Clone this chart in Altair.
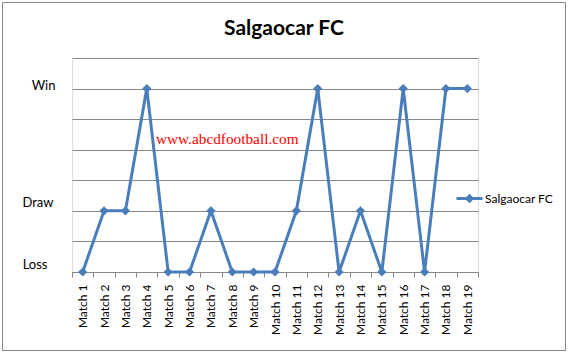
import altair as alt
import pandas as pd

matches = [f"Match {i}" for i in range(1, 20)]
results = ["Loss", "Draw", "Draw", "Win", "Loss", "Loss", "Draw", "Loss", "Loss", "Loss",
           "Draw", "Win", "Loss", "Draw", "Loss", "Win", "Loss", "Win", "Win"]
level = {"Loss": 0, "Draw": 2, "Win": 6}
team = "Salgaocar FC"

df = pd.DataFrame({"match": matches, "result": results,
                   "value": [level[r] for r in results], "team": team})

blue = "#4A7EBB"
grey = "#868686"
W, H = 406, 214
PL, PT, PR, PB = 72, 58, 91, 82

xenc = alt.X("match:N", sort=matches,
             scale=alt.Scale(type="band", paddingInner=0, paddingOuter=0),
             axis=alt.Axis(title=None, labelAngle=-90, tickBand="extent", tickSize=5,
                           tickColor=grey, domainColor=grey, labelColor="black",
                           labelFont="Lato", labelFontSize=12, labelPadding=7))
yenc = alt.Y("value:Q", scale=alt.Scale(domain=[0, 7], nice=False),
             axis=alt.Axis(title=None, values=list(range(8)), ticks=False, domain=False,
                           grid=True, gridColor=grey, labelColor="black", labelOverlap=False,
                           labelFont="Lato", labelFontSize=13,
                           labelPadding={"condition": [{"test": "datum.value==6", "value": 17},
                                                       {"test": "datum.value==2", "value": 19}],
                                         "value": 25},
                           labelOffset={"condition": [{"test": "datum.value==6", "value": -3}],
                                        "value": -8},
                           labelExpr="datum.value==0?'Loss':datum.value==2?'Draw':datum.value==6?'Win':''"))

base = alt.Chart(df)

line = base.mark_line(strokeWidth=3).encode(
    x=xenc, y=yenc,
    color=alt.Color("team:N", scale=alt.Scale(range=[blue]),
                    legend=alt.Legend(title=None, orient="none", legendX=383, legendY=126,
                                      symbolType="M -1 0 L 1 0 M 0 -0.2 L 0.2 0 L 0 0.2 L -0.2 0 Z",
                                      symbolSize=676, symbolStrokeWidth=3,
                                      symbolFillColor=blue, symbolStrokeColor=blue,
                                      labelFont="Lato", labelFontSize=12, labelColor="black",
                                      labelOffset=1, padding=0, offset=0)))
points = base.mark_point(shape="diamond", filled=True, size=85, opacity=1, color=blue).encode(
    x=xenc, y=yenc)

wm = pd.DataFrame({"label": ["www.abcdfootball.com"], "match": ["Match 8"], "value": [4.19]})
watermark = alt.Chart(wm).mark_text(font="Liberation Serif", fontSize=15.3, color="#FF0000",
                                     baseline="alphabetic", align="center", dx=-5).encode(
    x=xenc, y=yenc, text="label:N")

border = alt.Chart(pd.DataFrame({"a": [0]})).mark_rect(fill=None, stroke=grey, strokeWidth=1).encode(
    x=alt.value(-PL + 2.5), x2=alt.value(W + PR - 3.5), y=alt.value(-PT + 2.5), y2=alt.value(H + PB - 3.5))

title = alt.Chart(pd.DataFrame({"t": [team]})).mark_text(
    font="Lato", fontSize=21, fontWeight="bold", color="black", align="center", baseline="alphabetic").encode(
    x=alt.value(284 - PL), y=alt.value(35 - PT), text="t:N")

chart = alt.layer(border, line, points, watermark, title).properties(
    width=W, height=H,
    autosize=alt.AutoSizeParams(type="none"),
    padding={"left": PL, "top": PT, "right": PR, "bottom": PB},
).configure_view(stroke=None).configure(background="white").configure_axis(labelFont="Lato")

chart.save("out.html", embed_options={"renderer": "svg", "actions": False})
